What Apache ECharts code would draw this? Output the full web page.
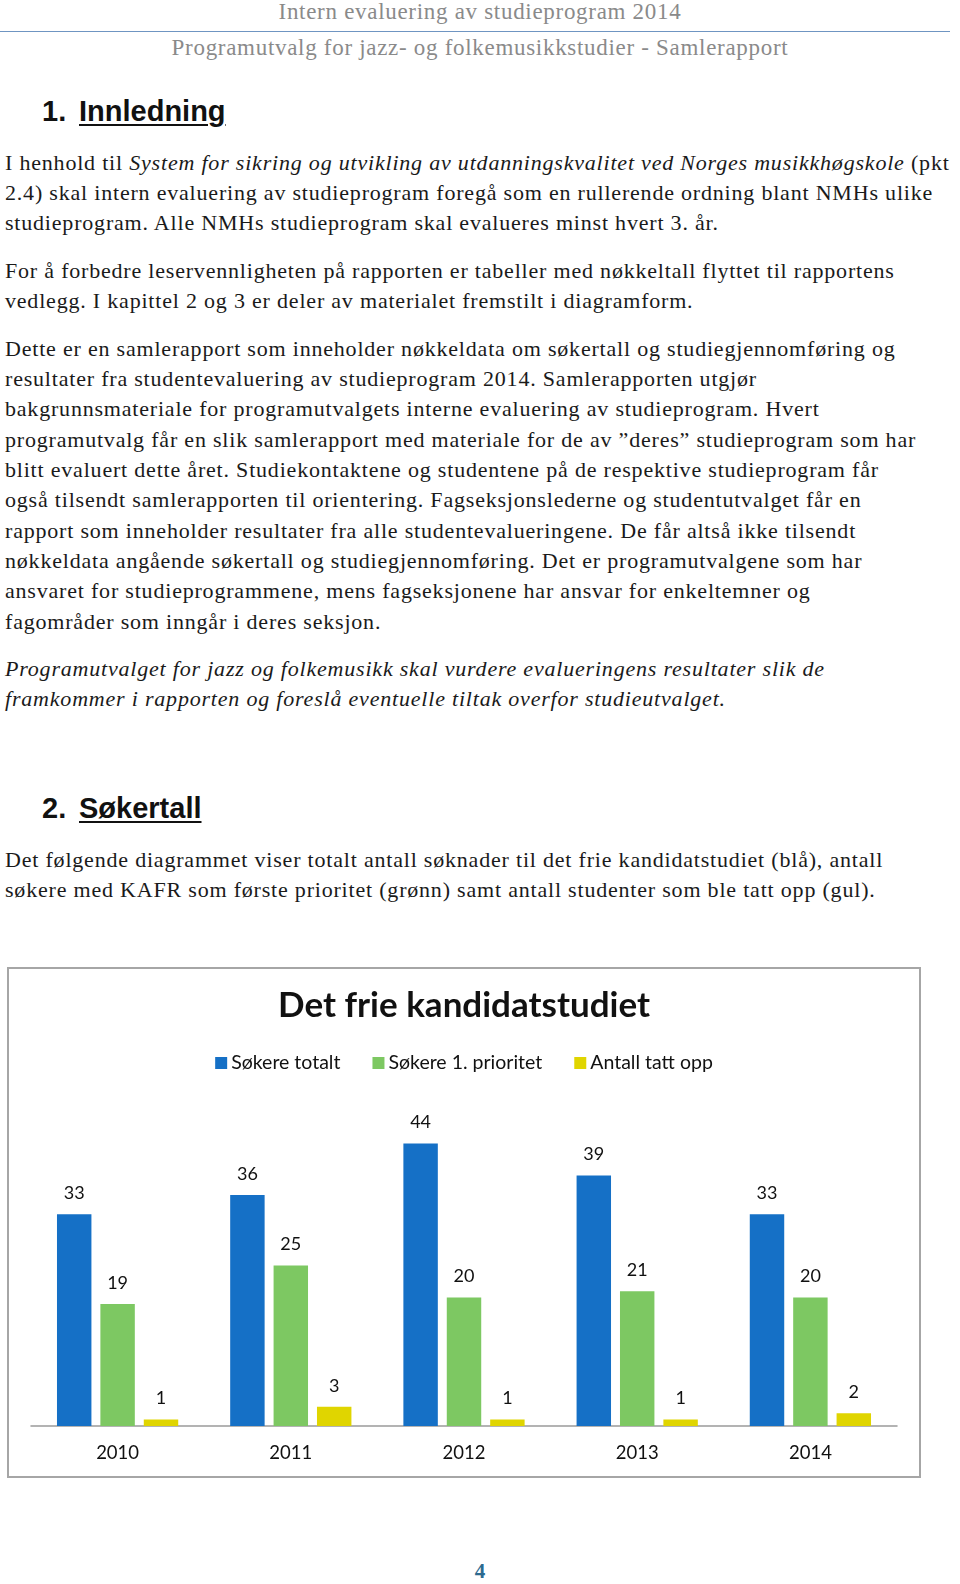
<!DOCTYPE html>
<html>
<head>
<meta charset="utf-8">
<script src="https://cdn.jsdelivr.net/npm/echarts@6/dist/echarts.min.js"></script>
<style>
  html,body{margin:0;padding:0;background:#fff;}
  #page{position:relative;width:960px;height:1584px;overflow:hidden;font-family:"Liberation Serif",serif;color:#1a1a1a;}
  .ln{position:absolute;left:5px;white-space:nowrap;font-size:22px;letter-spacing:0.8px;line-height:30px;height:30px;}
  .hdr{position:absolute;left:0;width:960px;text-align:center;white-space:nowrap;font-size:23px;letter-spacing:0.7px;line-height:30px;color:#8a8a8a;}
  .h{position:absolute;font-family:"Liberation Sans",Arial,sans-serif;font-weight:bold;font-size:29px;line-height:36px;color:#111;}
  .h u{text-decoration-thickness:2px;text-underline-offset:3px;}
  #rule{position:absolute;left:0;top:31px;width:950px;height:0;border-top:1.5px solid #6f95c2;}
  #chartBox{position:absolute;left:7px;top:967px;width:914px;height:511px;}
  #chartBorder{position:absolute;left:7px;top:967px;width:914px;height:511px;box-sizing:border-box;border:2px solid #a6a6a6;pointer-events:none;}
  #pnum{position:absolute;left:0;width:960px;text-align:center;top:1558px;font-size:21px;line-height:26px;font-weight:bold;color:#2d6a8f;}
</style>
</head>
<body>
<div id="page">
  <div class="hdr" style="top:-3px;">Intern evaluering av studieprogram 2014</div>
  <div id="rule"></div>
  <div class="hdr" style="top:33px;">Programutvalg for jazz- og folkemusikkstudier - Samlerapport</div>

  <div class="h" style="left:42px;top:93px;">1.</div>
  <div class="h" style="left:79px;top:93px;"><u>Innledning</u></div>

  <div class="ln" style="top:148px;">I henhold til <i>System for sikring og utvikling av utdanningskvalitet ved Norges musikkhøgskole</i> (pkt</div>
  <div class="ln" style="top:178px;">2.4) skal intern evaluering av studieprogram foregå som en rullerende ordning blant NMHs ulike</div>
  <div class="ln" style="top:208px;">studieprogram. Alle NMHs studieprogram skal evalueres minst hvert 3. år.</div>

  <div class="ln" style="top:256px;">For å forbedre leservennligheten på rapporten er tabeller med nøkkeltall flyttet til rapportens</div>
  <div class="ln" style="top:286px;">vedlegg. I kapittel 2 og 3 er deler av materialet fremstilt i diagramform.</div>

  <div class="ln" style="top:334px;">Dette er en samlerapport som inneholder nøkkeldata om søkertall og studiegjennomføring og</div>
  <div class="ln" style="top:364px;">resultater fra studentevaluering av studieprogram 2014. Samlerapporten utgjør</div>
  <div class="ln" style="top:394px;">bakgrunnsmateriale for programutvalgets interne evaluering av studieprogram. Hvert</div>
  <div class="ln" style="top:425px;">programutvalg får en slik samlerapport med materiale for de av ”deres” studieprogram som har</div>
  <div class="ln" style="top:455px;">blitt evaluert dette året. Studiekontaktene og studentene på de respektive studieprogram får</div>
  <div class="ln" style="top:485px;">også tilsendt samlerapporten til orientering. Fagseksjonslederne og studentutvalget får en</div>
  <div class="ln" style="top:516px;">rapport som inneholder resultater fra alle studentevalueringene. De får altså ikke tilsendt</div>
  <div class="ln" style="top:546px;">nøkkeldata angående søkertall og studiegjennomføring. Det er programutvalgene som har</div>
  <div class="ln" style="top:576px;">ansvaret for studieprogrammene, mens fagseksjonene har ansvar for enkeltemner og</div>
  <div class="ln" style="top:607px;">fagområder som inngår i deres seksjon.</div>

  <div class="ln" style="top:654px;"><i>Programutvalget for jazz og folkemusikk skal vurdere evalueringens resultater slik de</i></div>
  <div class="ln" style="top:684px;"><i>framkommer i rapporten og foreslå eventuelle tiltak overfor studieutvalget.</i></div>

  <div class="h" style="left:42px;top:790px;">2.</div>
  <div class="h" style="left:79px;top:790px;"><u>Søkertall</u></div>

  <div class="ln" style="top:845px;">Det følgende diagrammet viser totalt antall søknader til det frie kandidatstudiet (blå), antall</div>
  <div class="ln" style="top:875px;">søkere med KAFR som første prioritet (grønn) samt antall studenter som ble tatt opp (gul).</div>

  <div id="chartBox"></div>
  <div id="chartBorder"></div>

  <div id="pnum">4</div>
</div>
<script>
const chartTitle = 'Det frie kandidatstudiet';
const years = ['2010', '2011', '2012', '2013', '2014'];
const seriesNames = ['Søkere totalt', 'Søkere 1. prioritet', 'Antall tatt opp'];
const sokereTotalt = [33, 36, 44, 39, 33];
const sokereForstePrioritet = [19, 25, 20, 21, 20];
const antallTattOpp = [1, 3, 1, 1, 2];

const colors = ['#1570c6', '#7dc862', '#e0d500'];
const chartFont = 'Lato, "Open Sans", sans-serif';

const chart = echarts.init(document.getElementById('chartBox'), null, {renderer: 'canvas'});
const labelStyle = {
  show: true, position: 'top', distance: 12,
  fontFamily: chartFont, fontSize: 18, color: '#111'
};
function barSeries(name, data, color) {
  return {
    name: name, type: 'bar', data: data,
    barCategoryGap: '30%', barGap: '26%',
    itemStyle: {color: color},
    label: labelStyle,
    animation: false
  };
}
chart.setOption({
  animation: false,
  title: {
    text: chartTitle, left: 'center', top: 16,
    textStyle: {fontFamily: chartFont, fontWeight: 'bold', fontSize: 35, color: '#111'}
  },
  legend: {
    data: seriesNames, top: 81, left: 'center',
    icon: 'rect', itemWidth: 12, itemHeight: 12, itemGap: 32,
    textStyle: {fontFamily: chartFont, fontSize: 19.5, color: '#111', padding: [0, 0, 0, -1]}
  },
  grid: {left: 24, right: 24, top: 138, bottom: 52, containLabel: false},
  xAxis: {
    type: 'category', data: years,
    axisLine: {lineStyle: {color: '#9a9a9a', width: 1.5}},
    axisTick: {show: false},
    axisLabel: {fontFamily: chartFont, fontSize: 18.5, color: '#111', margin: 18}
  },
  yAxis: {
    type: 'value', min: 0, max: 50,
    show: false, splitLine: {show: false}
  },
  series: [
    barSeries(seriesNames[0], sokereTotalt, colors[0]),
    barSeries(seriesNames[1], sokereForstePrioritet, colors[1]),
    barSeries(seriesNames[2], antallTattOpp, colors[2])
  ]
});
</script>
</body>
</html>
